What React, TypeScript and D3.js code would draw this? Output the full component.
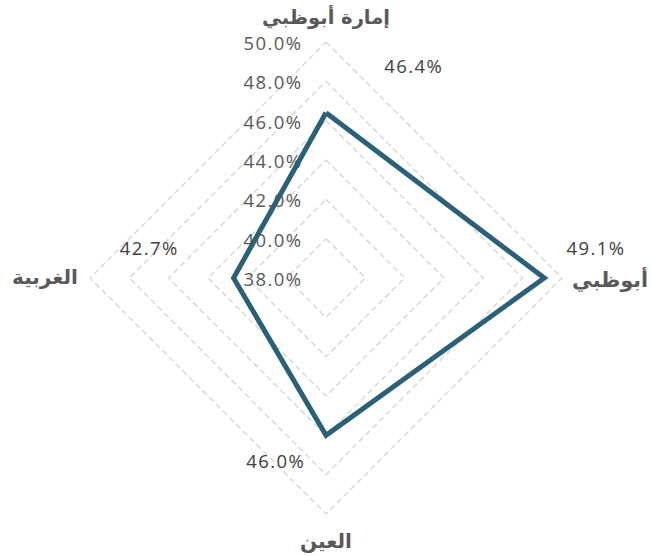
import React from "react";
import * as d3 from "d3";

const categories = ["إمارة أبوظبي", "أبوظبي", "العين", "الغربية"];
const values = [46.4, 49.1, 46.0, 42.7];
const tickValues = [38, 40, 42, 44, 46, 48, 50];

const W = 651;
const H = 556;
const cx = 326;
const cy = 278;
const R = 236;

export default function App() {
  const r = d3.scaleLinear().domain([38, 50]).range([0, R]);
  const angle = (i: number) => (i / categories.length) * 2 * Math.PI;
  const pt = (i: number, v: number): [number, number] => [
    cx + r(v) * Math.sin(angle(i)),
    cy - r(v) * Math.cos(angle(i)),
  ];
  const ring = (v: number) =>
    d3.line()(categories.map((_, i) => pt(i, v)).concat([pt(0, v)])) || "";
  const dataPath =
    d3.line()(values.map((v, i) => pt(i, v)).concat([pt(0, values[0])])) + "";

  const numFont = "'Open Sans', sans-serif";
  const arFont = "'DejaVu Sans', sans-serif";
  const ls = 1.4;

  const catPos = [
    { x: cx, y: 18, size: 19.5 },
    { x: 610, y: 281, size: 20.5 },
    { x: cx, y: 542, size: 20 },
    { x: 45, y: 278, size: 20 },
  ];
  const labelOffset = [
    { dx: 87, dy: -45 },
    { dx: 51, dy: -28 },
    { dx: -51, dy: 28 },
    { dx: -85, dy: -28 },
  ];

  return (
    <svg width={W} height={H} style={{ position: "absolute", left: 0, top: 0, background: "#fff" }}>
      {tickValues.slice(1).map((t) => (
        <path
          key={t}
          d={ring(t)}
          fill="none"
          stroke="#d9d9d9"
          strokeWidth={1.5}
          strokeDasharray="6 3.5"
        />
      ))}
      {tickValues.map((t) => (
        <text
          key={t}
          x={301 + ls}
          y={cy - r(t) + 3}
          textAnchor="end"
          dominantBaseline="middle"
          fontFamily={numFont}
          fontSize={18.5}
          letterSpacing={ls}
          fill="#595959"
        >
          {t.toFixed(1) + "%"}
        </text>
      ))}
      <path
        d={dataPath}
        fill="none"
        stroke="#2a6078"
        strokeWidth={5}
        strokeLinejoin="miter"
      />
      {values.map((v, i) => {
        const [x, y] = pt(i, v);
        return (
          <text
            key={i}
            x={x + labelOffset[i].dx + ls / 2}
            y={y + labelOffset[i].dy}
            textAnchor="middle"
            dominantBaseline="middle"
            fontFamily={numFont}
            fontSize={18.5}
            letterSpacing={ls}
            fill="#404040"
          >
            {v.toFixed(1) + "%"}
          </text>
        );
      })}
      {categories.map((c, i) => (
        <text
          key={c}
          x={catPos[i].x}
          y={catPos[i].y}
          textAnchor="middle"
          dominantBaseline="middle"
          fontFamily={arFont}
          fontWeight="bold"
          fontSize={catPos[i].size}
          fill="#595959"
        >
          {c}
        </text>
      ))}
    </svg>
  );
}
